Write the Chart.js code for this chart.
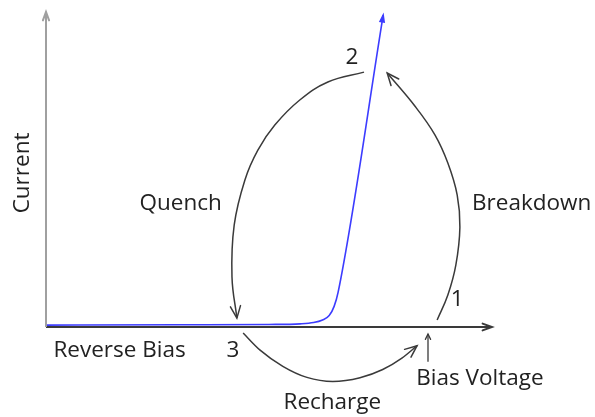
<!DOCTYPE html>
<html>
<head>
<meta charset="utf-8">
<script src="https://cdn.jsdelivr.net/npm/chart.js@4"></script>
<style>
  html, body { margin: 0; padding: 0; background: #fff; }
  canvas { display: block; }
</style>
</head>
<body>
<canvas id="ivChart" width="595" height="417"></canvas>
<script>
// DATA (axis units: bias 0..100 along x, current 0..100 along y)
const ivBias = [0, 30, 50, 57, 60, 62, 63.5, 64.6, 65.5, 75.6];
const ivCurrent = [0.6, 0.7, 0.8, 1.0, 1.4, 2.2, 3.6, 6.5, 11, 98.4];

const quenchX = [71.3, 63.2, 56.9, 51.3, 47.5, 44.6, 42.2, 41.7, 42.8];
const quenchY = [80.4, 77.3, 71.6, 63.7, 55.8, 46.4, 32.2, 15.8, 2.8];

const breakdownX = [87.7, 90.1, 91.9, 92.8, 92.2, 90.1, 87.2, 82.7, 76.5];
const breakdownY = [2.2, 10.1, 19.6, 31.5, 41.6, 51.7, 60.6, 69.7, 80.1];

const rechargeX = [44.2, 48.0, 53.1, 58.5, 64.3, 70.4, 75.5, 79.8, 83.2];
const rechargeY = [-1.9, -7.3, -12.4, -15.9, -17.2, -16.0, -13.4, -9.8, -5.9];

const biasMarkX = [85.65, 85.65];
const biasMarkY = [-11.0, -2.2];

const labelText = ["Current", "Quench", "Breakdown", "2", "1", "3", "Reverse Bias", "Bias Voltage", "Recharge"];
const labelX = [-5.2, 30.2, 108.9, 68.6, 92.2, 41.9, 16.5, 97.3, 64.2];
const labelY = [48.6, 38.8, 38.8, 84.9, 8.5, -7.3, -7.6, -16.4, -23.8];
const labelRot = [-90, 0, 0, 0, 0, 0, 0, 0, 0];

// helpers
const pts = (xs, ys) => xs.map((x, i) => ({ x: x, y: ys[i] }));

const ink = "#3a3a3a";

function lineSet(xs, ys, color, width, head, extra) {
  return Object.assign({
    data: pts(xs, ys),
    showLine: true,
    borderColor: color,
    borderWidth: width,
    pointRadius: 0,
    tension: 0.4,
    head: head
  }, extra || {});
}

// arrow heads on the last point of each line
const arrowHeads = {
  id: "arrowHeads",
  afterDatasetsDraw(chart) {
    const ctx = chart.ctx;
    chart.data.datasets.forEach((ds, i) => {
      if (!ds.head) return;
      const els = chart.getDatasetMeta(i).data;
      const tip = els[els.length - 1];
      let fx = els[els.length - 2].x, fy = els[els.length - 2].y;
      if (tip.cp1x !== undefined && Math.hypot(tip.cp1x - tip.x, tip.cp1y - tip.y) > 1) {
        fx = tip.cp1x; fy = tip.cp1y;
      }
      const a = Math.atan2(tip.y - fy, tip.x - fx);
      const size = ds.head.size, spread = ds.head.spread;
      ctx.save();
      ctx.strokeStyle = ds.borderColor;
      ctx.fillStyle = ds.borderColor;
      ctx.lineWidth = ds.borderWidth;
      ctx.lineCap = "round";
      ctx.beginPath();
      ctx.moveTo(tip.x - size * Math.cos(a - spread), tip.y - size * Math.sin(a - spread));
      ctx.lineTo(tip.x, tip.y);
      ctx.lineTo(tip.x - size * Math.cos(a + spread), tip.y - size * Math.sin(a + spread));
      if (ds.head.filled) { ctx.closePath(); ctx.fill(); }
      ctx.stroke();
      ctx.restore();
    });
  }
};

// text labels placed through the scales
const diagramLabels = {
  id: "diagramLabels",
  afterDatasetsDraw(chart) {
    const ctx = chart.ctx;
    const sx = chart.scales.x, sy = chart.scales.y;
    ctx.save();
    ctx.fillStyle = "#222";
    ctx.font = "22.5px 'Open Sans', sans-serif";
    ctx.textAlign = "center";
    ctx.textBaseline = "middle";
    labelText.forEach((t, i) => {
      ctx.save();
      ctx.translate(sx.getPixelForValue(labelX[i]), sy.getPixelForValue(labelY[i]));
      ctx.rotate(labelRot[i] * Math.PI / 180);
      ctx.fillText(t, 0, 0);
      ctx.restore();
    });
    ctx.restore();
  }
};

new Chart(document.getElementById("ivChart"), {
  type: "scatter",
  data: {
    datasets: [
      lineSet([0, 0], [0, 99.4], "#a0a0a0", 2, { size: 9, spread: 0.35 }, { tension: 0 }),
      lineSet([0, 100], [0, 0], ink, 2, { size: 10, spread: 0.35 }, { tension: 0 }),
      lineSet(ivBias, ivCurrent, "#3c3cff", 1.6, { size: 7, spread: 0.3, filled: true },
        { tension: 0, cubicInterpolationMode: "monotone" }),
      lineSet(quenchX, quenchY, ink, 1.5, { size: 13, spread: 0.4 }),
      lineSet(breakdownX, breakdownY, ink, 1.5, { size: 13, spread: 0.4 }),
      lineSet(rechargeX, rechargeY, ink, 1.5, { size: 13, spread: 0.4 },
        { cubicInterpolationMode: "monotone" }),
      lineSet(biasMarkX, biasMarkY, ink, 1.3, { size: 6, spread: 0.45 }, { tension: 0 })
    ]
  },
  options: {
    responsive: false,
    animation: false,
    layout: { padding: 0 },
    scales: {
      x: { type: "linear", min: -10.314, max: 123.094, display: false },
      y: { type: "linear", min: -28.391, max: 103.155, display: false }
    },
    plugins: {
      legend: { display: false },
      tooltip: { enabled: false }
    }
  },
  plugins: [arrowHeads, diagramLabels]
});
</script>
</body>
</html>
